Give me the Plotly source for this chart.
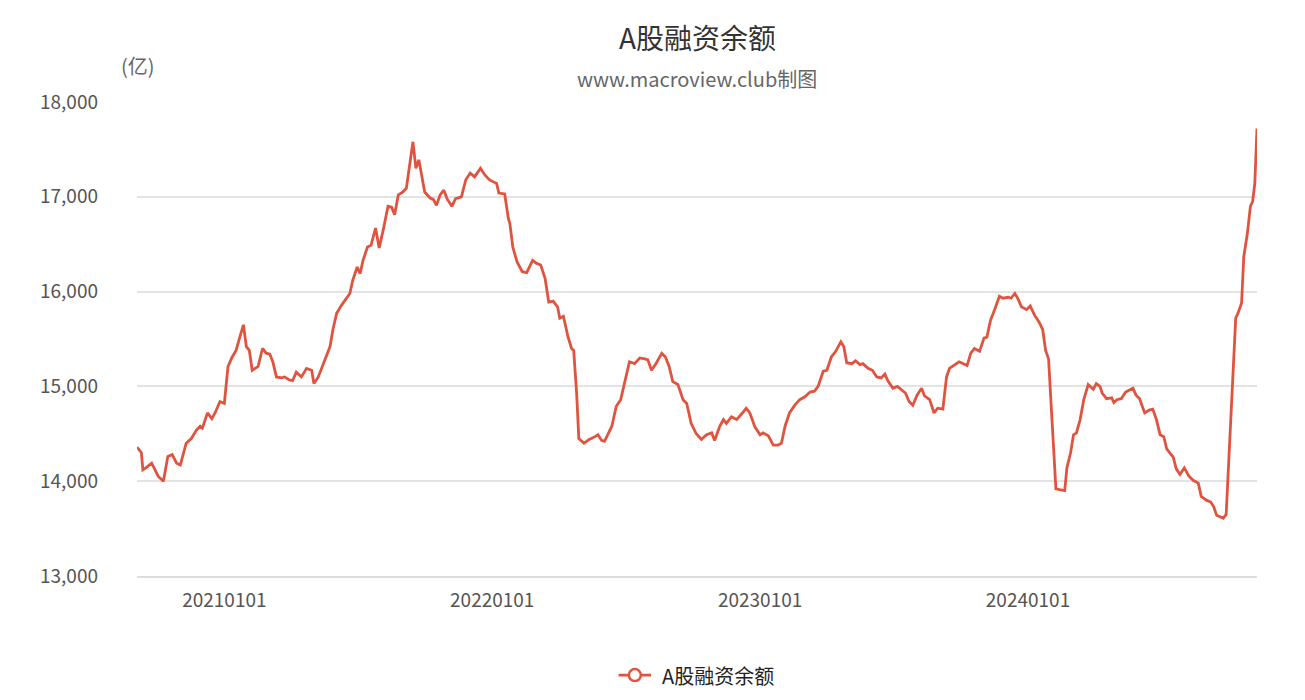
import plotly.graph_objects as go

dates = [
    "2020-09-04", "2020-09-10", "2020-09-12", "2020-09-16", "2020-09-24", "2020-09-28", "2020-10-03", "2020-10-10",
    "2020-10-16", "2020-10-22", "2020-10-28", "2020-11-02", "2020-11-10", "2020-11-17", "2020-11-24", "2020-11-29",
    "2020-12-02", "2020-12-09", "2020-12-15", "2020-12-20", "2020-12-26", "2021-01-01", "2021-01-06", "2021-01-11",
    "2021-01-17", "2021-01-21", "2021-01-27", "2021-01-31", "2021-02-04", "2021-02-08", "2021-02-16", "2021-02-22",
    "2021-02-27", "2021-03-04", "2021-03-08", "2021-03-13", "2021-03-20", "2021-03-24", "2021-03-30", "2021-04-04",
    "2021-04-09", "2021-04-16", "2021-04-23", "2021-04-30", "2021-05-03", "2021-05-09", "2021-05-18", "2021-05-25",
    "2021-05-29", "2021-06-03", "2021-06-10", "2021-06-16", "2021-06-21", "2021-06-25", "2021-07-01", "2021-07-05",
    "2021-07-09", "2021-07-15", "2021-07-20", "2021-07-26", "2021-07-31", "2021-08-06", "2021-08-12", "2021-08-17",
    "2021-08-21", "2021-08-26", "2021-09-01", "2021-09-06", "2021-09-11", "2021-09-15", "2021-09-19", "2021-09-23",
    "2021-10-01", "2021-10-08", "2021-10-13", "2021-10-17", "2021-10-22", "2021-10-27", "2021-11-01", "2021-11-07",
    "2021-11-12", "2021-11-20", "2021-11-26", "2021-12-02", "2021-12-08", "2021-12-16", "2021-12-22", "2021-12-28",
    "2022-01-02", "2022-01-07", "2022-01-10", "2022-01-18", "2022-01-23", "2022-01-25", "2022-01-29", "2022-02-04",
    "2022-02-11", "2022-02-17", "2022-02-25", "2022-03-02", "2022-03-08", "2022-03-14", "2022-03-19", "2022-03-25",
    "2022-03-31", "2022-04-03", "2022-04-08", "2022-04-14", "2022-04-19", "2022-04-22", "2022-04-26", "2022-04-29",
    "2022-05-06", "2022-05-13", "2022-05-21", "2022-05-25", "2022-05-30", "2022-06-03", "2022-06-13", "2022-06-19",
    "2022-06-25", "2022-07-01", "2022-07-07", "2022-07-14", "2022-07-21", "2022-07-28", "2022-08-01", "2022-08-06",
    "2022-08-12", "2022-08-20", "2022-08-25", "2022-08-30", "2022-09-04", "2022-09-11", "2022-09-18", "2022-09-23",
    "2022-09-29", "2022-10-06", "2022-10-13", "2022-10-20", "2022-10-27", "2022-10-31", "2022-11-07", "2022-11-12",
    "2022-11-16", "2022-11-23", "2022-11-30", "2022-12-09", "2022-12-13", "2022-12-18", "2022-12-25", "2023-01-01",
    "2023-01-05", "2023-01-12", "2023-01-19", "2023-01-25", "2023-01-30", "2023-02-04", "2023-02-10", "2023-02-17",
    "2023-02-24", "2023-03-03", "2023-03-10", "2023-03-16", "2023-03-21", "2023-03-28", "2023-04-02", "2023-04-08",
    "2023-04-14", "2023-04-21", "2023-04-25", "2023-04-29", "2023-05-06", "2023-05-11", "2023-05-17", "2023-05-21",
    "2023-05-28", "2023-06-03", "2023-06-09", "2023-06-15", "2023-06-20", "2023-06-24", "2023-07-01", "2023-07-07",
    "2023-07-13", "2023-07-18", "2023-07-23", "2023-07-28", "2023-08-03", "2023-08-09", "2023-08-13", "2023-08-20",
    "2023-08-26", "2023-08-31", "2023-09-07", "2023-09-12", "2023-09-16", "2023-09-23", "2023-09-29", "2023-10-05",
    "2023-10-10", "2023-10-15", "2023-10-20", "2023-10-27", "2023-11-02", "2023-11-06", "2023-11-11", "2023-11-17",
    "2023-11-23", "2023-11-28", "2023-12-05", "2023-12-09", "2023-12-14", "2023-12-18", "2023-12-23", "2023-12-30",
    "2024-01-04", "2024-01-10", "2024-01-16", "2024-01-21", "2024-01-25", "2024-01-29", "2024-02-08", "2024-02-13",
    "2024-02-20", "2024-02-23", "2024-02-28", "2024-03-03", "2024-03-07", "2024-03-12", "2024-03-17", "2024-03-23",
    "2024-03-30", "2024-04-03", "2024-04-08", "2024-04-11", "2024-04-17", "2024-04-24", "2024-04-27", "2024-05-01",
    "2024-05-07", "2024-05-13", "2024-05-19", "2024-05-23", "2024-05-27", "2024-06-01", "2024-06-08", "2024-06-14",
    "2024-06-19", "2024-06-24", "2024-06-29", "2024-07-04", "2024-07-08", "2024-07-12", "2024-07-17", "2024-07-21",
    "2024-07-26", "2024-08-01", "2024-08-07", "2024-08-13", "2024-08-20", "2024-08-24", "2024-08-31", "2024-09-06",
    "2024-09-10", "2024-09-14", "2024-09-18", "2024-09-23", "2024-09-27", "2024-10-10", "2024-10-13", "2024-10-18",
    "2024-10-21", "2024-10-26", "2024-10-30", "2024-11-02", "2024-11-05", "2024-11-08",
]

balance = [
    14360, 14300, 14120, 14140, 14190, 14120, 14050, 14000,
    14260, 14280, 14190, 14170, 14400, 14450, 14540, 14580,
    14560, 14720, 14660, 14730, 14840, 14820, 15210, 15300,
    15380, 15490, 15650, 15420, 15380, 15170, 15210, 15400,
    15350, 15340, 15260, 15100, 15090, 15100, 15070, 15060,
    15150, 15100, 15190, 15170, 15030, 15100, 15280, 15420,
    15600, 15770, 15860, 15930, 15980, 16120, 16260, 16190,
    16330, 16470, 16490, 16670, 16460, 16670, 16900, 16890,
    16810, 17020, 17050, 17090, 17350, 17580, 17300, 17390,
    17050, 16990, 16970, 16910, 17020, 17070, 16970, 16900,
    16980, 17000, 17180, 17250, 17210, 17300, 17230, 17180,
    17160, 17140, 17040, 17030, 16770, 16720, 16470, 16310,
    16210, 16200, 16330, 16300, 16280, 16140, 15890, 15900,
    15840, 15720, 15740, 15530, 15400, 15380, 14930, 14450,
    14400, 14440, 14470, 14490, 14430, 14420, 14580, 14790,
    14860, 15070, 15260, 15240, 15300, 15290, 15280, 15170,
    15240, 15350, 15310, 15210, 15050, 15020, 14860, 14820,
    14610, 14500, 14440, 14490, 14510, 14430, 14580, 14650,
    14610, 14680, 14650, 14730, 14770, 14720, 14570, 14490,
    14510, 14480, 14380, 14380, 14400, 14580, 14720, 14800,
    14860, 14890, 14940, 14950, 15000, 15160, 15170, 15310,
    15370, 15470, 15420, 15250, 15240, 15270, 15230, 15240,
    15190, 15170, 15100, 15090, 15130, 15060, 14980, 15000,
    14960, 14930, 14840, 14800, 14910, 14980, 14900, 14860,
    14720, 14770, 14760, 15100, 15190, 15230, 15260, 15240,
    15220, 15350, 15400, 15370, 15510, 15520, 15700, 15820,
    15950, 15930, 15940, 15930, 15980, 15930, 15840, 15810,
    15850, 15750, 15680, 15600, 15380, 15290, 13920, 13910,
    13900, 14140, 14300, 14490, 14510, 14650, 14860, 15020,
    14970, 15030, 15000, 14930, 14870, 14880, 14830, 14860,
    14870, 14940, 14960, 14980, 14910, 14870, 14720, 14750,
    14760, 14650, 14490, 14470, 14340, 14300, 14250, 14130,
    14070, 14140, 14055, 14010, 13980, 13840, 13800, 13780,
    13730, 13640, 13630, 13610, 13650, 15720, 15770, 15880,
    16370, 16620, 16900, 16950, 17140, 17720,
]

tick_dates = ["2021-01-01", "2022-01-01", "2023-01-01", "2024-01-01"]
tick_labels = ["20210101", "20220101", "20230101", "20240101"]
y_ticks = [13000, 14000, 15000, 16000, 17000, 18000]

series_name = "A股融资余额"
title_text = "A股融资余额"
subtitle_text = "www.macroview.club制图"
unit_text = "(亿)"

FONT = "Noto Sans CJK SC, Microsoft YaHei, sans-serif"
LINE_COLOR = "#e0543f"

fig = go.Figure()
fig.add_trace(go.Scatter(
    x=dates, y=balance, mode="lines", name=series_name,
    line=dict(color=LINE_COLOR, width=2.8),
    showlegend=False,
))

# legend drawn manually (ECharts style: line with hollow circle)
LEG_Y = -0.209
fig.add_shape(type="line", xref="paper", yref="paper",
              x0=0.430, x1=0.459, y0=LEG_Y, y1=LEG_Y,
              line=dict(color=LINE_COLOR, width=2.8))
fig.add_shape(type="circle", xref="paper", yref="paper",
              xsizemode="pixel", ysizemode="pixel",
              xanchor=0.4445, yanchor=LEG_Y, x0=-6, x1=6, y0=-6, y1=6,
              line=dict(color=LINE_COLOR, width=2.5), fillcolor="white")

fig.update_layout(
    width=1289, height=684,
    paper_bgcolor="white", plot_bgcolor="white",
    margin=dict(l=129, r=40, t=94, b=116),
    font=dict(family=FONT, color="#666666"),
    showlegend=False,
    annotations=[
        dict(text=title_text, xref="paper", yref="paper", x=0.5, y=1.0,
             yshift=65, showarrow=False, xanchor="center", yanchor="middle",
             font=dict(size=28, color="#333333", family=FONT)),
        dict(text=subtitle_text, xref="paper", yref="paper", x=0.5, y=1.0,
             yshift=24, showarrow=False, xanchor="center", yanchor="middle",
             font=dict(size=20, color="#666666", family=FONT)),
        dict(text=unit_text, xref="paper", yref="paper", x=0.0, y=1.0,
             xshift=1, yshift=37, showarrow=False, xanchor="center", yanchor="middle",
             font=dict(size=20, color="#666666", family=FONT)),
        dict(text=series_name, xref="paper", yref="paper", x=0.467, y=LEG_Y,
             showarrow=False, xanchor="left", yanchor="middle",
             font=dict(size=20, color="#222222", family=FONT)),
    ],
)

fig.update_xaxes(
    type="date",
    range=[dates[0], dates[-1]],
    tickvals=tick_dates, ticktext=tick_labels,
    showgrid=False, zeroline=False,
    showline=True, linecolor="#dddddd", linewidth=1.5,
    ticks="", ticklabelstandoff=6,
    tickfont=dict(size=19, color="#555555", family=FONT),
)
fig.update_yaxes(
    range=[13000, 18000],
    tickvals=y_ticks, tickformat=",d",
    showgrid=True, gridcolor="#e3e3e3", gridwidth=1.5,
    zeroline=False, showline=False,
    ticks="", ticklabelstandoff=38,
    tickfont=dict(size=19, color="#555555", family=FONT),
)

fig.write_html("out.html")
